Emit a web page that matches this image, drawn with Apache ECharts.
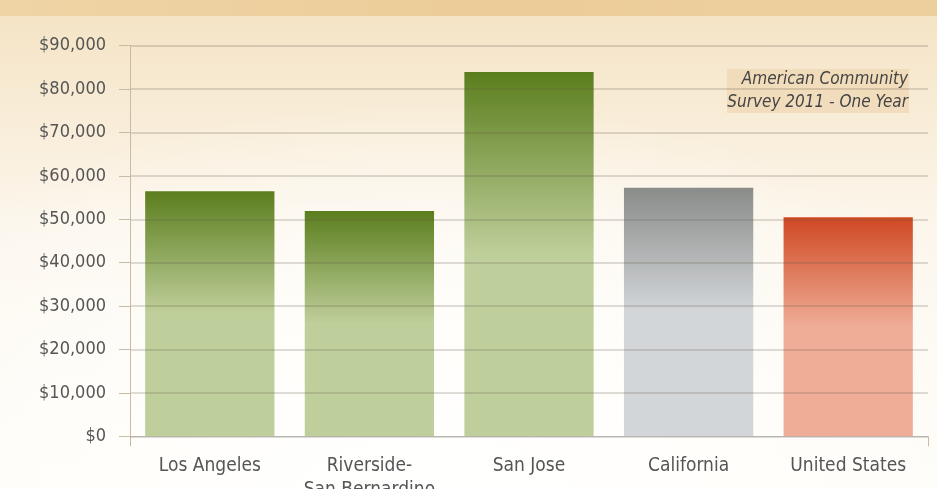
<!DOCTYPE html>
<html>
<head>
<meta charset="utf-8">
<script src="https://cdn.jsdelivr.net/npm/echarts@6/dist/echarts.min.js"></script>
<style>
html,body{margin:0;padding:0;width:937px;height:489px;overflow:hidden;}
#bg{position:absolute;left:0;top:0;width:937px;height:489px;
background:
 radial-gradient(ellipse 700px 420px at 430px 520px, rgba(255,255,255,1) 0%, rgba(255,254,251,0.95) 45%, rgba(255,252,245,0) 100%),
 linear-gradient(180deg,#f5e4c6 16px,#f8ecd6 110px,#fcf6ec 230px,#fefcf8 489px);}
#band{position:absolute;left:0;top:0;width:937px;height:16px;background:linear-gradient(90deg,#efd4a5,#eccd99 50%,#edcf9e);}
#chart{position:absolute;left:0;top:0;width:937px;height:489px;}
</style>
</head>
<body>
<div id="bg"></div>
<div id="band"></div>
<div id="chart"></div>
<script>
const categories = ['Los Angeles', 'Riverside-\nSan Bernardino', 'San Jose', 'California', 'United States'];
const incomeValues = [56450, 51900, 83950, 57290, 50500];
const yTicks = [0, 10000, 20000, 30000, 40000, 50000, 60000, 70000, 80000, 90000];
const noteLines = ['American Community', 'Survey 2011 - One Year'];

const FONT = '"Liberation Sans Narrow","DejaVu Sans Condensed","Roboto",sans-serif';
const palettes = [
  ['#5b7e1d', '#bfcf9b'],
  ['#5b7e1d', '#bfcf9b'],
  ['#5b7e1d', '#bfcf9b'],
  ['#8a8c8a', '#d3d6d9'],
  ['#cf4822', '#efad97']
];
function grad(p) {
  return new echarts.graphic.LinearGradient(0, 0, 0, 1, [
    {offset: 0, color: p[0]},
    {offset: 0.5, color: p[1]},
    {offset: 1, color: p[1]}
  ]);
}
const chart = echarts.init(document.getElementById('chart'), null, {renderer: 'canvas'});
chart.setOption({
  animation: false,
  backgroundColor: 'transparent',
  grid: {left: 130, right: 9, top: 45.7, bottom: 52.7, containLabel: false, outerBoundsMode: 'none'},
  xAxis: {
    type: 'category',
    data: categories,
    axisLine: {show: true, lineStyle: {color: '#cfcfcf', width: 1}},
    axisTick: {show: true, length: 10, interval: function (i) { return i === 0; }, lineStyle: {color: '#c9bba3'}},
    axisLabel: {color: '#555', fontFamily: FONT, fontSize: 19, margin: 18, lineHeight: 24, interval: 0}
  },
  yAxis: {
    type: 'value',
    min: 0, max: 90000, interval: 10000,
    z: 5,
    axisLine: {show: true, lineStyle: {color: '#c9bba3', width: 1}},
    axisTick: {show: true, length: 11, lineStyle: {color: '#c9bba3'}},
    splitLine: {show: true, lineStyle: {color: 'rgba(95,85,70,0.27)', width: 1.5}},
    axisLabel: {
      color: '#555', fontFamily: FONT, fontSize: 18, margin: 24,
      formatter: function (v) { return yTicks.indexOf(v) >= 0 ? '$' + v.toLocaleString('en-US') : ''; }
    }
  },
  series: [{
    type: 'bar',
    barCategoryGap: '19%',
    data: incomeValues.map(function (v, i) {
      return {value: v, itemStyle: {color: grad(palettes[i])}};
    })
  }],
  graphic: [
    {type: 'rect', right: 28, top: 69, shape: {width: 182, height: 44}, style: {fill: 'rgba(232,205,160,0.45)'}, z: 1},
    {type: 'text', right: 29, top: 68, z: 10, style: {text: noteLines.join('\n'), fill: '#444', font: 'italic 17px ' + FONT, textAlign: 'right', lineHeight: 23}}
  ]
});
</script>
</body>
</html>
